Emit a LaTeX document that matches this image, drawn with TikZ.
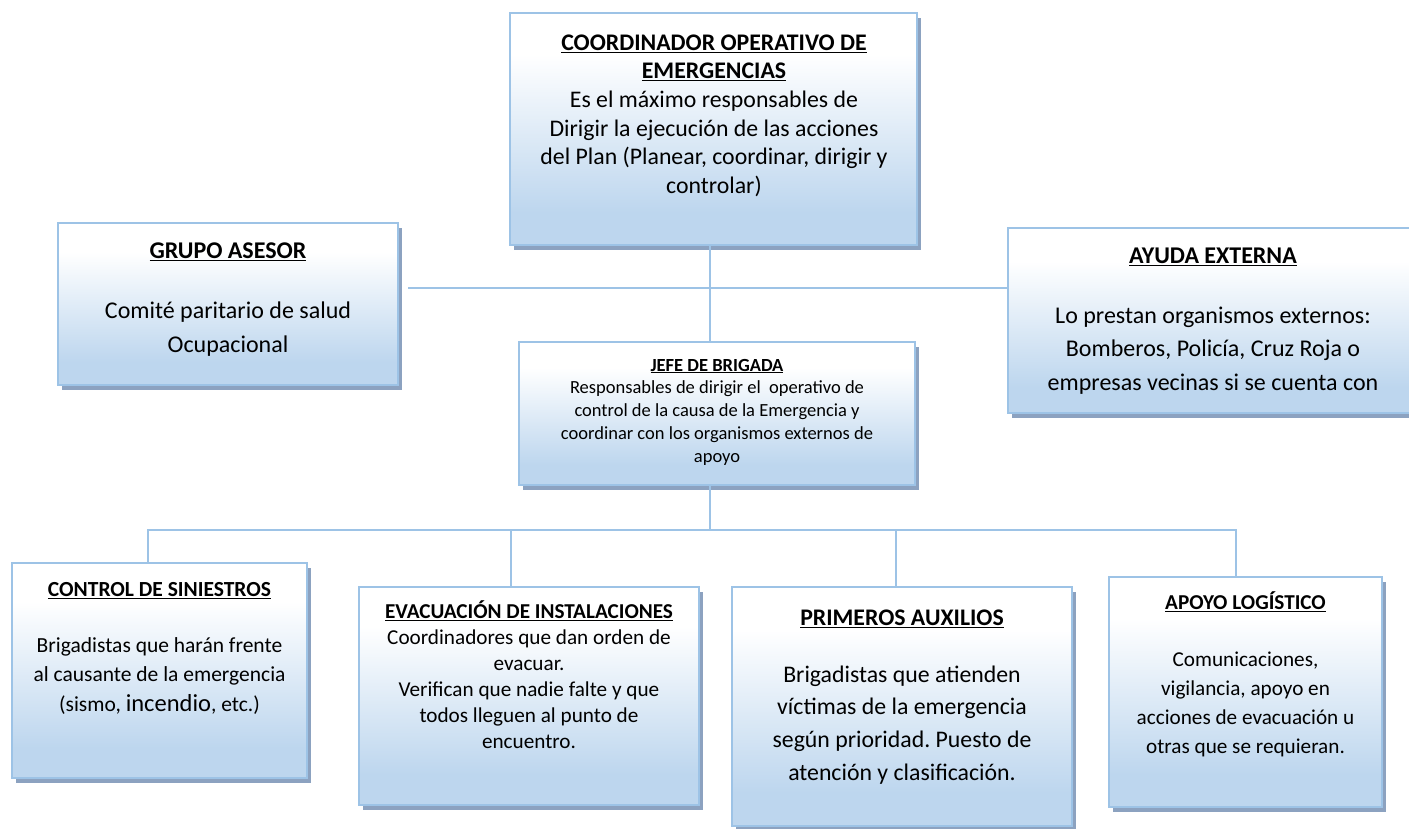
\documentclass[tikz,border=0pt]{standalone}
\usepackage{fontspec}
\setmainfont{Carlito}
\usetikzlibrary{shadows}
\definecolor{bd}{RGB}{157,195,230}
\definecolor{bb}{RGB}{189,214,238}
\definecolor{shc}{RGB}{140,162,192}
\pgfdeclareverticalshading{boxshade}{100bp}{color(0bp)=(bb); color(32bp)=(bb); color(66bp)=(white); color(100bp)=(white)}
\newcommand{\boxtitle}[1]{\underline{\textbf{#1}}}
\frenchspacing
\tikzset{
  bx/.style={draw=bd, line width=2pt, shading=boxshade, inner sep=0pt,
    drop shadow={shadow xshift=4pt, shadow yshift=-5pt, fill=shc, opacity=1}},
  tx/.style={anchor=north, align=center, inner sep=0pt, text=black},
  ln/.style={draw=bd, line width=2.5pt}
}
\begin{document}
\begin{tikzpicture}[x=1pt,y=-1pt]
\useasboundingbox (0,0) rectangle (1409,828);
\clip (0,0) rectangle (1409,828);

% boxes
\node[bx, minimum width=407pt, minimum height=232pt] (co) at (713.5,129) {};
\node[bx, minimum width=396pt, minimum height=143pt] (jf) at (717,413.5) {};
\node[bx, minimum width=340pt, minimum height=162pt] (ga) at (228,304) {};
\node[bx, minimum width=410pt, minimum height=185pt] (ae) at (1213,320.5) {};
\node[bx, minimum width=295pt, minimum height=215pt] (cs) at (159.5,670.5) {};
\node[bx, minimum width=340pt, minimum height=218pt] (ev) at (529,696) {};
\node[bx, minimum width=340pt, minimum height=239pt] (pa) at (902,706.5) {};
\node[bx, minimum width=273pt, minimum height=230pt] (al) at (1245.5,692) {};

% texts
\node[tx, font=\fontsize{23.8}{28.7}\selectfont] (co-t) at (714,29.9)
  {\strut\boxtitle{COORDINADOR OPERATIVO DE}\\\boxtitle{EMERGENCIAS}\\
   Es el máximo responsables de\\Dirigir la ejecución de las acciones\\
   del Plan (Planear, coordinar, dirigir y\\controlar)};
\node[tx, font=\fontsize{18.5}{22.8}\selectfont] (jf-t) at (717,355)
  {\strut\boxtitle{JEFE DE BRIGADA}\\
   Responsables de dirigir el\ \ operativo de\\
   control de la causa de la Emergencia y\\
   coordinar con los organismos externos de\\apoyo};
\node[tx, font=\fontsize{24}{34}\selectfont] (ga-t) at (228,234.2)
  {\strut\boxtitle{GRUPO ASESOR}\\[26pt]
   Comité paritario de salud\\Ocupacional};
\node[tx, font=\fontsize{24}{33.5}\selectfont] (ae-t) at (1213,239.5)
  {\strut\boxtitle{AYUDA EXTERNA}\\[26.5pt]
   Lo prestan organismos externos:\\Bomberos, Policía, Cruz Roja o\\
   empresas vecinas si se cuenta con};
\node[tx, font=\fontsize{21.5}{29.5}\selectfont] (cs-t) at (159.5,575.3)
  {\strut\boxtitle{CONTROL DE SINIESTROS}\\[26.5pt]
   Brigadistas que harán frente\\al causante de la emergencia\\
   (sismo, {\fontsize{24.5}{29.5}\selectfont incendio}, etc.)};
\node[tx, font=\fontsize{21.2}{26}\selectfont] (ev-t) at (529,599.8)
  {\strut\boxtitle{EVACUACIÓN DE INSTALACIONES}\\
   Coordinadores que dan orden de\\evacuar.\\
   Verifican que nadie falte y que\\todos lleguen al punto de\\encuentro.};
\node[tx, font=\fontsize{23.8}{32.7}\selectfont] (pa-t) at (902,602.1)
  {\strut\boxtitle{PRIMEROS AUXILIOS}\\[24.3pt]
   Brigadistas que atienden\\víctimas de la emergencia\\
   según prioridad. Puesto de\\atención y clasificación.};
\node[tx, font=\fontsize{21.2}{29}\selectfont] (al-t) at (1245.5,588.7)
  {\strut\boxtitle{APOYO LOGÍSTICO}\\[28pt]
   Comunicaciones,\\vigilancia, apoyo en\\
   acciones de evacuación u\\otras que se requieran.};

% connector points
\coordinate (hub) at (710,288);
\coordinate (bus) at (710,530);
\coordinate (d1) at (148,530);
\coordinate (d2) at (511,530);
\coordinate (d3) at (896,530);
\coordinate (d4) at (1236,530);

% connectors
\draw[ln] (hub |- co.south) -- (hub |- jf.north);
\draw[ln, shorten <=9pt] (hub -| ga.east) -- (hub -| ae.west);
\draw[ln] (hub |- jf.south) -- (bus);
\draw[ln] (d1 |- cs.north) -- (d1) -- (d4) -- (d4 |- al.north);
\draw[ln] (d2) -- (d2 |- ev.north);
\draw[ln] (d3) -- (d3 |- pa.north);
\end{tikzpicture}
\end{document}
